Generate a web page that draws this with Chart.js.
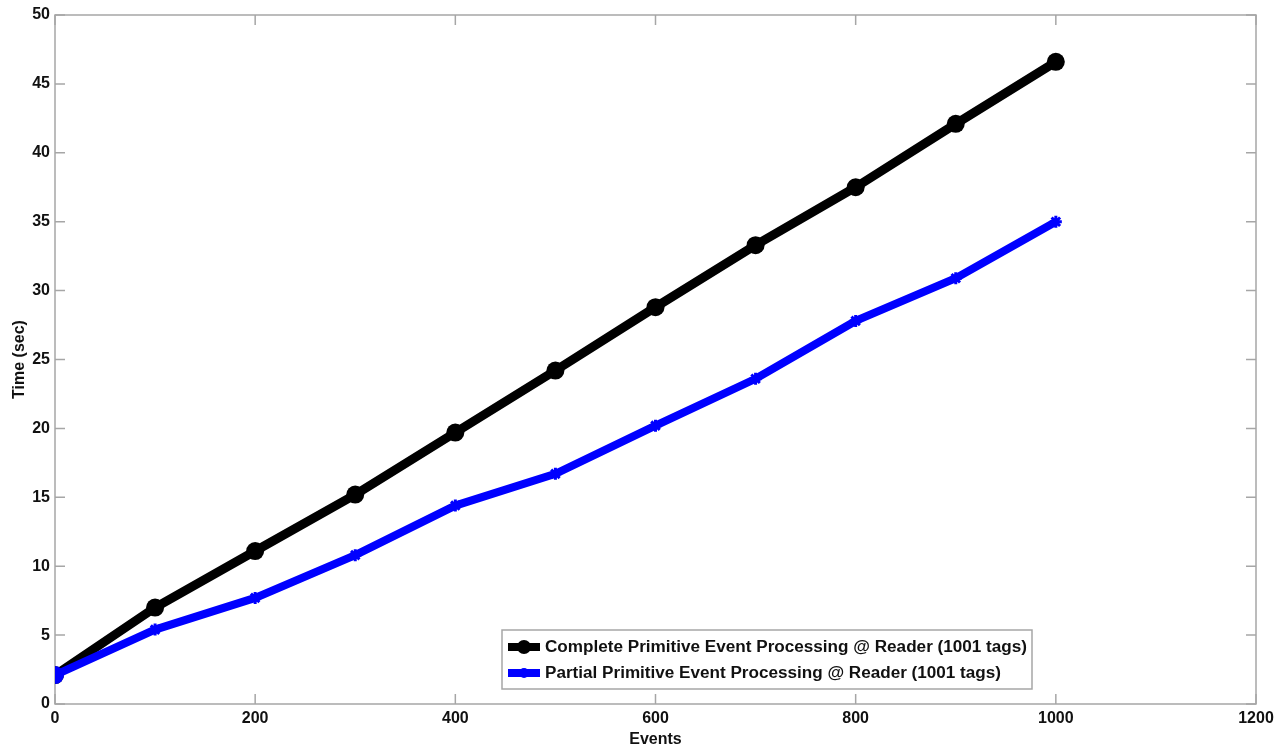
<!DOCTYPE html>
<html>
<head>
<meta charset="utf-8">
<script src="https://cdn.jsdelivr.net/npm/chart.js@4.4.0/dist/chart.umd.min.js"></script>
<style>
  html, body { margin: 0; padding: 0; background: #fff; }
  #wrap { width: 1286px; height: 749px; position: relative; }
</style>
</head>
<body>
<div id="wrap"><canvas id="myChart" width="1286" height="749"></canvas></div>
<script>
// data
const events = [0, 100, 200, 300, 400, 500, 600, 700, 800, 900, 1000];
const completeTimes = [2.1, 7.0, 11.1, 15.2, 19.7, 24.2, 28.8, 33.3, 37.5, 42.1, 46.6];
const partialTimes = [2.1, 5.4, 7.7, 10.8, 14.4, 16.7, 20.2, 23.6, 27.8, 30.9, 35.0];
const completeLabel = 'Complete Primitive Event Processing @ Reader (1001 tags)';
const partialLabel = 'Partial Primitive Event Processing @ Reader (1001 tags)';
const xTicks = [0, 200, 400, 600, 800, 1000, 1200];
const yTicks = [0, 5, 10, 15, 20, 25, 30, 35, 40, 45, 50];

const FONT = 'Liberation Sans, Arial, sans-serif';
const AXIS_GREY = '#a6a6a6';

function toPoints(xs, ys) {
    return xs.map((x, i) => ({ x: x, y: ys[i] }));
}

// box round the plot plus MATLAB style inward ticks
const boxAndTicks = {
    id: 'boxAndTicks',
    beforeDatasetsDraw(chart) {
        const { ctx, chartArea: a, scales } = chart;
        ctx.save();
        ctx.strokeStyle = AXIS_GREY;
        ctx.lineWidth = 1.5;
        ctx.strokeRect(a.left, a.top, a.right - a.left, a.bottom - a.top);
        const len = 10;
        ctx.beginPath();
        xTicks.forEach(v => {
            const px = scales.x.getPixelForValue(v);
            ctx.moveTo(px, a.bottom); ctx.lineTo(px, a.bottom - len);
            ctx.moveTo(px, a.top); ctx.lineTo(px, a.top + len);
        });
        yTicks.forEach(v => {
            const py = scales.y.getPixelForValue(v);
            ctx.moveTo(a.left, py); ctx.lineTo(a.left + len, py);
            ctx.moveTo(a.right, py); ctx.lineTo(a.right - len, py);
        });
        ctx.stroke();
        ctx.restore();
    }
};

// legend box inside the plot, lower right
const insideLegend = {
    id: 'insideLegend',
    afterDraw(chart) {
        const { ctx, chartArea: a } = chart;
        const right = a.right - 224;
        const bottom = a.bottom - 15;
        const w = 530, h = 59;
        const left = right - w, top = bottom - h;
        ctx.save();
        ctx.fillStyle = '#fff';
        ctx.fillRect(left, top, w, h);
        ctx.strokeStyle = AXIS_GREY;
        ctx.lineWidth = 1.5;
        ctx.strokeRect(left, top, w, h);

        const rows = [
            { label: completeLabel, color: '#000' },
            { label: partialLabel, color: '#0000ff' }
        ];
        ctx.font = 'bold 16px ' + FONT;
        ctx.textBaseline = 'middle';
        rows.forEach((r, i) => {
            const cy = top + 17 + i * 26;
            ctx.strokeStyle = r.color;
            ctx.lineWidth = 8;
            ctx.beginPath();
            ctx.moveTo(left + 6, cy);
            ctx.lineTo(left + 38, cy);
            ctx.stroke();
            ctx.fillStyle = r.color;
            ctx.beginPath();
            ctx.arc(left + 22, cy, i === 0 ? 7 : 5, 0, Math.PI * 2);
            ctx.fill();
            // stretch the label to the width it has in the picture
            ctx.fillStyle = '#111';
            const tw = ctx.measureText(r.label).width;
            const target = i === 0 ? 482 : 456;
            ctx.save();
            ctx.translate(left + 43, cy + 1);
            ctx.scale(target / tw, 1);
            ctx.fillText(r.label, 0, 0);
            ctx.restore();
        });
        ctx.restore();
    }
};

const ctx = document.getElementById('myChart').getContext('2d');
new Chart(ctx, {
    type: 'line',
    data: {
        datasets: [
            {
                label: completeLabel,
                data: toPoints(events, completeTimes),
                borderColor: '#000',
                backgroundColor: '#000',
                borderWidth: 9,
                pointStyle: 'circle',
                pointRadius: 9,
                pointBorderWidth: 0,
                tension: 0,
                fill: false,
                order: 2
            },
            {
                label: partialLabel,
                data: toPoints(events, partialTimes),
                borderColor: '#0000ff',
                backgroundColor: '#0000ff',
                borderWidth: 8,
                pointStyle: ['circle', 'star', 'star', 'star', 'star', 'star', 'star', 'star', 'star', 'star', 'star'],
                pointRadius: [9, 6, 6, 6, 6, 6, 6, 6, 6, 6, 6],
                pointBorderColor: '#0000ff',
                pointBorderWidth: [0, 3, 3, 3, 3, 3, 3, 3, 3, 3, 3],
                tension: 0,
                fill: false,
                order: 1
            }
        ]
    },
    options: {
        responsive: false,
        animation: false,
        layout: { padding: { top: 15, right: 30, left: 0, bottom: 0 } },
        plugins: {
            legend: { display: false },
            tooltip: { enabled: false }
        },
        scales: {
            x: {
                type: 'linear',
                min: 0,
                max: 1200,
                afterBuildTicks: s => { s.ticks = xTicks.map(v => ({ value: v })); },
                afterFit: s => { s.height = 45; },
                grid: { display: false, drawTicks: false },
                border: { display: false },
                ticks: {
                    color: '#111',
                    padding: 5,
                    maxRotation: 0,
                    callback: v => String(v),
                    font: { family: FONT, size: 16, weight: 'bold' }
                },
                title: {
                    display: true,
                    text: 'Events',
                    color: '#111',
                    padding: { top: -3, bottom: 0 },
                    font: { family: FONT, size: 16, weight: 'bold' }
                }
            },
            y: {
                min: 0,
                max: 50,
                afterBuildTicks: s => { s.ticks = yTicks.map(v => ({ value: v })); },
                afterFit: s => { s.width = 55; },
                grid: { display: false, drawTicks: false },
                border: { display: false },
                ticks: {
                    color: '#111',
                    padding: 5,
                    callback: v => String(v),
                    font: { family: FONT, size: 16, weight: 'bold' }
                },
                title: {
                    display: true,
                    text: 'Time (sec)',
                    color: '#111',
                    padding: { top: 10, bottom: 0 },
                    font: { family: FONT, size: 16, weight: 'bold' }
                }
            }
        }
    },
    plugins: [boxAndTicks, insideLegend]
});
</script>
</body>
</html>
